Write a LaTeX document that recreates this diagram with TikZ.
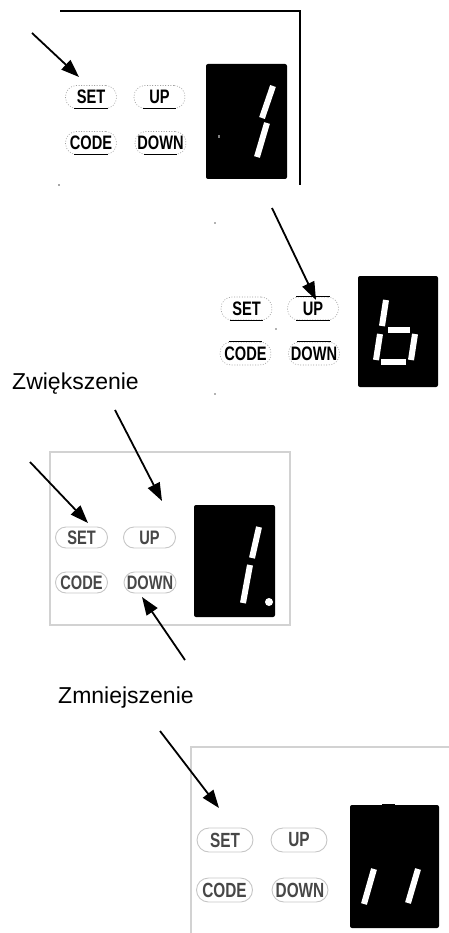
\documentclass[tikz,border=0pt]{standalone}
\usepackage{fontspec}
\setmainfont{Liberation Sans}
\newfontfamily\btnfont[FakeStretch=0.75]{Liberation Sans}
\usetikzlibrary{arrows.meta}
\begin{document}
\begin{tikzpicture}[x=1pt,y=-1pt,
  btnA/.style={draw=gray!75, dash pattern=on 1pt off 1.6pt, line width=0.6pt, rounded corners=11pt,
    minimum width=51pt, minimum height=23pt, inner sep=0pt,
    font=\btnfont\bfseries\fontsize{19.5}{19.5}\selectfont, text=black},
  btnB/.style={draw=gray!45, line width=0.9pt, rounded corners=10.5pt,
    minimum width=52pt, minimum height=21pt, inner sep=0pt,
    font=\btnfont\bfseries\fontsize{19.5}{19.5}\selectfont, text=black!72},
  btnC/.style={btnB, minimum width=56pt, minimum height=24pt, rounded corners=12pt,
    font=\btnfont\bfseries\fontsize{20.5}{20.5}\selectfont},
  ul/.style={line width=0.9pt, black},
  disp/.style={fill=black, rounded corners=2pt},
  segm/.style={white, line width=6pt, line cap=butt},
  arr/.style={line width=1.8pt, -{Triangle[length=18pt,width=13pt]}},
  frm/.style={draw=gray!35, line width=1.1pt},
  lbl/.style={font=\fontsize{23}{23}\selectfont, anchor=base west, inner sep=0pt}]
\useasboundingbox (0,0) rectangle (449,933);

% ---------- panel 1 ----------
\draw[line width=1.2pt] (60,11) -- (300,11) -- (300,185);
\fill[black!70] (59,185) circle (0.8);
\node[btnA] (s1) at (91,97) {SET};
\node[btnA] (u1) at (159.5,97) {UP};
\node[btnA] (c1) at (91,143) {CODE};
\node[btnA] (d1) at (160.5,143) {DOWN};
\foreach \b in {s1,u1,c1,d1}
  \draw[ul] ([xshift=9pt]\b.south west) -- ([xshift=-9pt]\b.south east);
\fill[disp] (206,64) rectangle (287,179);
\draw[segm] (273,86) -- (262,118);
\draw[segm] (267,123) -- (257,157);
\fill[gray] (218,135.5) rectangle (220,138.5);
\coordinate (a1t) at (32,33);
\coordinate (a1h) at (79,77);
\draw[arr] (a1t) -- (a1h);

% ---------- panel 2 ----------
\fill[black!60] (215,223) circle (0.8);
\fill[black!60] (215,394) circle (0.8);
\fill[black!60] (276,329) circle (0.8);
\node[btnA] (s2) at (246.5,308.5) {SET};
\node[btnA] (u2) at (313,308.5) {UP};
\node[btnA] (c2) at (245.5,353.5) {CODE};
\node[btnA] (d2) at (314,353.5) {DOWN};
\draw[ul] ([xshift=9pt]s2.south west) -- ([xshift=-9pt]s2.south east);
\draw[ul] ([xshift=9pt]u2.south west) -- ([xshift=-9pt]u2.south east);
\draw[ul] ([xshift=9pt]u2.north west) -- ([xshift=-9pt]u2.north east);
\draw[ul] ([xshift=9pt]c2.north west) -- ([xshift=-9pt]c2.north east);
\draw[ul] ([xshift=9pt]d2.north west) -- ([xshift=-9pt]d2.north east);
\fill[disp] (358,276) rectangle (438,387);
\draw[segm] (386,300) -- (382,326);
\draw[segm] (380,334) -- (376,360);
\draw[segm] (388,330) -- (410,330);
\draw[segm] (415,334) -- (411,360);
\draw[segm] (381,362) -- (406,362);
\coordinate (a2t) at (272,208);
\coordinate (a2h) at (316,300);
\draw[arr] (a2t) -- (a2h);

% ---------- panel 3 ----------
\node[lbl] (inc) at (12,389) {Zwiększenie};
\draw[frm] (50,452) rectangle (290,625);
\node[btnB] (s3) at (81.5,537.5) {SET};
\node[btnB] (u3) at (149.5,537.5) {UP};
\node[btnB] (c3) at (81.5,582.5) {CODE};
\node[btnB] (d3) at (150,582.5) {DOWN};
\fill[disp] (194,505) rectangle (275,617);
\draw[segm] (259,527) -- (252,558);
\draw[segm] (250,565) -- (243,603);
\fill[white] (269,602) circle (4);
\coordinate (a3t) at (30,462);
\coordinate (a3h) at (88,523);
\draw[arr] (a3t) -- (a3h);
\coordinate (a4t) at (115,410);
\coordinate (a4h) at (162,501);
\draw[arr] (a4t) -- (a4h);
\coordinate (a5t) at (185,660);
\coordinate (a5h) at (142,597);
\draw[arr] (a5t) -- (a5h);
\node[lbl] (dec) at (58,703) {Zmniejszenie};

% ---------- panel 4 ----------
\draw[frm] (191,933) -- (191,747) -- (449,747);
\node[btnC] (s4) at (225,840) {SET};
\node[btnC] (u4) at (299,840) {UP};
\node[btnC] (c4) at (224.5,890) {CODE};
\node[btnC] (d4) at (300,890) {DOWN};
\fill[disp] (350,805) rectangle (439,928);
\fill[black] (382,803.5) rectangle (395,806);
\draw[segm] (374,869) -- (364,904);
\draw[segm] (418,869) -- (408,903);
\coordinate (a6t) at (160,731);
\coordinate (a6h) at (219,808);
\draw[arr] (a6t) -- (a6h);
\end{tikzpicture}
\end{document}
